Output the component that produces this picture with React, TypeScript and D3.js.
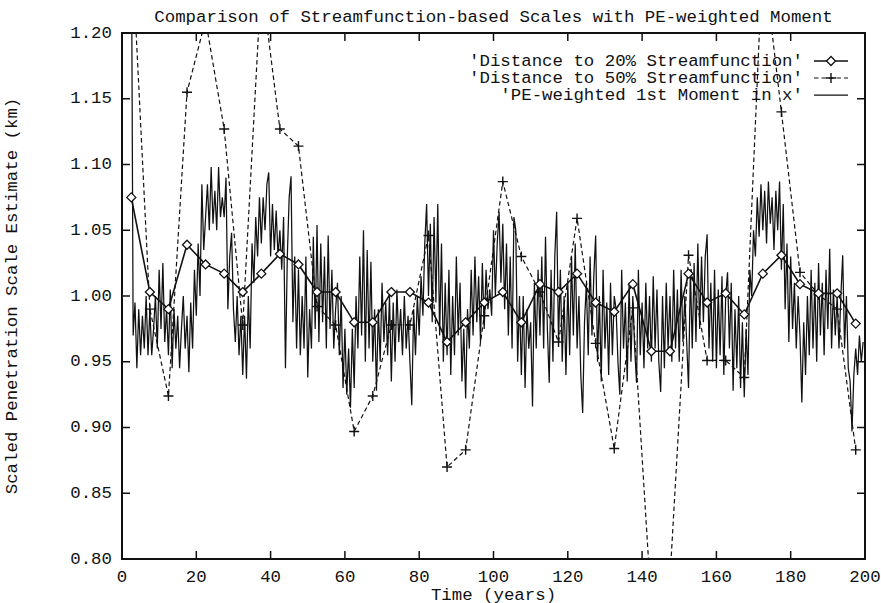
import React from "react";
import * as d3 from "d3";

// Sample years of the two streamfunction-based estimates (every 5 years)
const markerYears = [
  2.5, 7.5, 12.5, 17.5, 22.5, 27.5, 32.5, 37.5, 42.5, 47.5,
  52.5, 57.5, 62.5, 67.5, 72.5, 77.5, 82.5, 87.5, 92.5, 97.5,
  102.5, 107.5, 112.5, 117.5, 122.5, 127.5, 132.5, 137.5, 142.5, 147.5,
  152.5, 157.5, 162.5, 167.5, 172.5, 177.5, 182.5, 187.5, 192.5, 197.5,
];

// 'Distance to 20% Streamfunction'
const dist20 = [
  1.075, 1.003, 0.990, 1.039, 1.024, 1.017, 1.003, 1.017, 1.032, 1.024,
  1.003, 1.003, 0.980, 0.980, 1.003, 1.003, 0.995, 0.965, 0.980, 0.995,
  1.003, 0.980, 1.009, 1.003, 1.017, 0.995, 0.988, 1.009, 0.958, 0.958,
  1.017, 0.995, 1.002, 0.986, 1.017, 1.031, 1.009, 1.002, 1.002, 0.979,
];

// 'Distance to 50% Streamfunction'
const dist50 = [
  1.274, 0.990, 0.924, 1.155, 1.210, 1.127, 0.978, 1.240, 1.127, 1.114,
  0.992, 0.978, 0.897, 0.924, 0.978, 0.978, 1.046, 0.870, 0.883, 0.985,
  1.087, 1.030, 1.003, 0.965, 1.059, 0.964, 0.884, 0.991, 0.764, 0.785,
  1.031, 0.951, 0.951, 0.938, 1.260, 1.140, 1.018, 1.001, 0.990, 0.883,
];

// 'PE-weighted 1st Moment in x', sampled every half year from year 2.5
const peStart = 2.5;
const peStep = 0.5;
const peMoment = [
  1.30, 0.97, 0.995, 0.945, 0.99, 0.955, 0.985, 0.96, 1.00, 0.955,
  0.99, 0.955, 0.975, 1.00, 0.96, 1.02, 0.975, 1.025, 0.965, 0.99,
  0.955, 1.005, 0.945, 0.99, 0.96, 0.985, 0.945, 0.975, 1.00, 0.96,
  0.985, 0.942, 0.995, 0.96, 1.02, 0.985, 1.04, 1.00, 1.085, 1.035,
  1.06, 1.085, 1.05, 1.098, 1.055, 1.08, 1.05, 1.098, 1.06, 1.075,
  1.06, 1.09, 0.99, 1.03, 1.048, 0.99, 0.965, 1.00, 0.955, 0.985,
  0.94, 0.985, 0.937, 1.00, 0.96, 1.04, 1.01, 1.06, 1.03, 1.075,
  1.04, 1.075, 1.05, 1.085, 1.094, 1.03, 1.07, 1.035, 1.065, 1.03,
  1.05, 1.02, 1.06, 0.945, 1.03, 1.075, 1.091, 0.98, 1.03, 0.96,
  1.02, 0.955, 1.00, 0.96, 1.03, 0.938, 0.99, 0.96, 1.045, 0.975,
  1.054, 0.965, 1.04, 0.98, 1.03, 0.96, 1.046, 0.975, 1.02, 0.96,
  0.99, 1.01, 0.955, 1.00, 0.93, 0.975, 0.925, 0.96, 0.915, 0.975,
  0.93, 1.00, 0.96, 1.03, 0.97, 1.05, 0.95, 1.035, 0.96, 1.026,
  0.95, 0.99, 0.928, 0.99, 0.95, 1.01, 0.965, 0.995, 0.955, 1.00,
  0.935, 0.995, 0.95, 1.005, 0.965, 0.99, 0.955, 1.00, 0.96, 0.985,
  0.95, 0.917, 0.99, 0.955, 1.00, 0.97, 1.015, 0.985, 1.04, 1.07,
  1.00, 1.055, 0.98, 1.06, 0.995, 1.07, 0.97, 1.04, 0.95, 1.01,
  0.955, 1.02, 0.94, 1.00, 0.955, 1.03, 0.97, 1.01, 0.935, 0.975,
  0.922, 0.99, 0.96, 1.02, 0.97, 1.03, 0.98, 1.015, 0.965, 1.025,
  0.975, 1.02, 0.99, 1.005, 0.985, 1.05, 1.00, 1.04, 1.064, 1.01,
  1.055, 0.99, 1.04, 0.97, 1.03, 0.96, 1.06, 1.05, 0.95, 1.00,
  0.94, 1.00, 0.93, 0.99, 0.96, 0.98, 0.916, 1.01, 0.96, 1.02,
  0.97, 1.03, 0.96, 1.045, 0.975, 0.934, 1.02, 0.95, 1.03, 1.064,
  0.965, 1.02, 0.95, 1.00, 0.94, 1.01, 0.955, 1.03, 0.97, 1.04,
  0.96, 1.00, 0.94, 0.911, 0.98, 1.01, 0.955, 1.03, 0.97, 1.015,
  1.046, 0.95, 1.00, 0.935, 1.02, 0.96, 0.995, 0.94, 1.01, 0.955,
  1.00, 0.99, 0.95, 0.925, 1.02, 0.96, 0.995, 0.935, 1.01, 0.95,
  1.00, 0.96, 0.934, 1.02, 0.955, 0.995, 0.945, 1.01, 0.96, 1.00,
  0.95, 1.015, 0.96, 1.005, 0.95, 0.927, 1.00, 0.945, 1.01, 0.96,
  1.00, 0.95, 1.02, 0.96, 1.005, 0.95, 1.02, 0.965, 1.00, 0.965,
  0.93, 1.02, 0.96, 1.025, 0.965, 1.04, 0.975, 1.03, 0.98, 1.03,
  1.047, 0.96, 1.01, 0.95, 1.02, 0.945, 1.005, 0.955, 1.015, 0.94,
  1.00, 1.018, 0.96, 1.01, 0.928, 0.99, 0.945, 1.00, 0.93, 0.98,
  0.923, 0.975, 0.94, 1.02, 1.00, 1.05, 1.03, 1.075, 1.045, 1.085,
  1.05, 1.08, 1.04, 1.087, 1.055, 1.075, 1.035, 1.08, 1.05, 1.087,
  1.02, 1.07, 0.99, 1.04, 0.965, 1.03, 0.975, 1.01, 0.96, 1.00,
  0.97, 0.919, 0.98, 0.94, 1.00, 0.955, 1.02, 0.96, 1.01, 0.95,
  1.025, 0.97, 1.01, 0.955, 1.02, 0.975, 1.036, 0.96, 1.005, 0.97,
  1.00, 0.96, 1.00, 1.031, 0.96, 1.00, 0.945, 0.935, 0.897, 0.94,
  0.96, 0.94, 0.97, 0.95, 0.965,
];

const xTicks = [0, 20, 40, 60, 80, 100, 120, 140, 160, 180, 200];
const yTicks = [0.8, 0.85, 0.9, 0.95, 1.0, 1.05, 1.1, 1.15, 1.2];

const legendLabels = [
  "'Distance to 20% Streamfunction'",
  "'Distance to 50% Streamfunction'",
  "'PE-weighted 1st Moment in x'",
];

const W = 881;
const H = 603;
const M = { left: 122, right: 865, top: 33, bottom: 559 };
const FONT = "'Liberation Mono', 'Courier New', monospace";
const FS = 17.4;
const TICK = 8;

export default function App() {
  const x = d3.scaleLinear().domain([0, 200]).range([M.left, M.right]);
  const y = d3.scaleLinear().domain([0.8, 1.2]).range([M.bottom, M.top]);

  const line = d3
    .line<[number, number]>()
    .x((d) => x(d[0]))
    .y((d) => y(d[1]));

  const pePts: [number, number][] = peMoment.map((v, i) => [peStart + i * peStep, v]);
  const d20Pts: [number, number][] = markerYears.map((t, i) => [t, dist20[i]]);
  const d50Pts: [number, number][] = markerYears.map((t, i) => [t, dist50[i]]);

  const inside = (p: [number, number]) => p[1] >= 0.8 && p[1] <= 1.2;

  const diamond = (cx: number, cy: number, r: number) =>
    `M${cx},${cy - r}L${cx + r},${cy}L${cx},${cy + r}L${cx - r},${cy}Z`;
  const cross = (cx: number, cy: number, r: number) =>
    `M${cx - r},${cy}H${cx + r}M${cx},${cy - r}V${cy + r}`;

  const legendTextX = 803;
  const sampleX0 = 814;
  const sampleX1 = 848;
  const legendY = [61, 78, 95];

  return (
    <svg
      width={W}
      height={H}
      viewBox={`0 0 ${W} ${H}`}
      style={{ position: "absolute", left: 0, top: 0, background: "#fff" }}
      fontFamily={FONT}
      fontSize={FS}
    >
      <defs>
        <clipPath id="plotArea">
          <rect x={M.left} y={M.top} width={M.right - M.left} height={M.bottom - M.top} />
        </clipPath>
      </defs>
      <rect width={W} height={H} fill="#fff" />

      {/* title */}
      <text x={(M.left + M.right) / 2} y={17} textAnchor="middle" dominantBaseline="central" fill="#111">
        Comparison of Streamfunction-based Scales with PE-weighted Moment
      </text>

      {/* data */}
      <g clipPath="url(#plotArea)" fill="none" stroke="#111">
        <path d={line(pePts) || ""} strokeWidth={1.25} strokeLinejoin="miter" />
        <path d={line(d50Pts) || ""} strokeWidth={1.2} strokeDasharray="4.5,3" />
        <path d={line(d20Pts) || ""} strokeWidth={1.6} />
        {d50Pts.filter(inside).map((p, i) => (
          <path key={`c${i}`} d={cross(x(p[0]), y(p[1]), 5)} strokeWidth={1.4} />
        ))}
        {d20Pts.map((p, i) => (
          <path key={`d${i}`} d={diamond(x(p[0]), y(p[1]), 4.5)} fill="#fff" strokeWidth={1.3} />
        ))}
      </g>

      {/* border and ticks */}
      <g stroke="#111" fill="none">
        <rect
          x={M.left}
          y={M.top}
          width={M.right - M.left}
          height={M.bottom - M.top}
          strokeWidth={2}
        />
        {xTicks.map((t) => (
          <g key={`xt${t}`} strokeWidth={1.5}>
            <line x1={x(t)} x2={x(t)} y1={M.bottom} y2={M.bottom - TICK} />
            <line x1={x(t)} x2={x(t)} y1={M.top} y2={M.top + TICK} />
          </g>
        ))}
        {yTicks.map((v) => (
          <g key={`yt${v}`} strokeWidth={1.5}>
            <line x1={M.left} x2={M.left + TICK} y1={y(v)} y2={y(v)} />
            <line x1={M.right} x2={M.right - TICK} y1={y(v)} y2={y(v)} />
          </g>
        ))}
      </g>

      {/* tick labels */}
      <g fill="#111">
        {xTicks.map((t) => (
          <text key={`xl${t}`} x={x(t)} y={577} textAnchor="middle" dominantBaseline="central">
            {d3.format("d")(t)}
          </text>
        ))}
        {yTicks.map((v) => (
          <text key={`yl${v}`} x={112} y={y(v)} textAnchor="end" dominantBaseline="central">
            {d3.format(".2f")(v)}
          </text>
        ))}
        <text x={(M.left + M.right) / 2} y={595} textAnchor="middle" dominantBaseline="central">
          Time (years)
        </text>
        <text
          transform={`translate(12,${(M.top + M.bottom) / 2}) rotate(-90)`}
          textAnchor="middle"
          dominantBaseline="central"
        >
          Scaled Penetration Scale Estimate (km)
        </text>
      </g>

      {/* legend */}
      <g>
        {legendLabels.map((lab, i) => (
          <text
            key={`lg${i}`}
            x={legendTextX}
            y={legendY[i]}
            textAnchor="end"
            dominantBaseline="central"
            fill="#111"
          >
            {lab}
          </text>
        ))}
        <g stroke="#111" fill="none">
          <line x1={sampleX0} x2={sampleX1} y1={legendY[0]} y2={legendY[0]} strokeWidth={1.6} />
          <path
            d={diamond((sampleX0 + sampleX1) / 2, legendY[0], 4.5)}
            fill="#fff"
            strokeWidth={1.3}
          />
          <line
            x1={sampleX0}
            x2={sampleX1}
            y1={legendY[1]}
            y2={legendY[1]}
            strokeWidth={1.2}
            strokeDasharray="4.5,3"
          />
          <path d={cross((sampleX0 + sampleX1) / 2, legendY[1], 5)} strokeWidth={1.4} />
          <line x1={sampleX0} x2={sampleX1} y1={legendY[2]} y2={legendY[2]} strokeWidth={1.25} />
        </g>
      </g>
    </svg>
  );
}
